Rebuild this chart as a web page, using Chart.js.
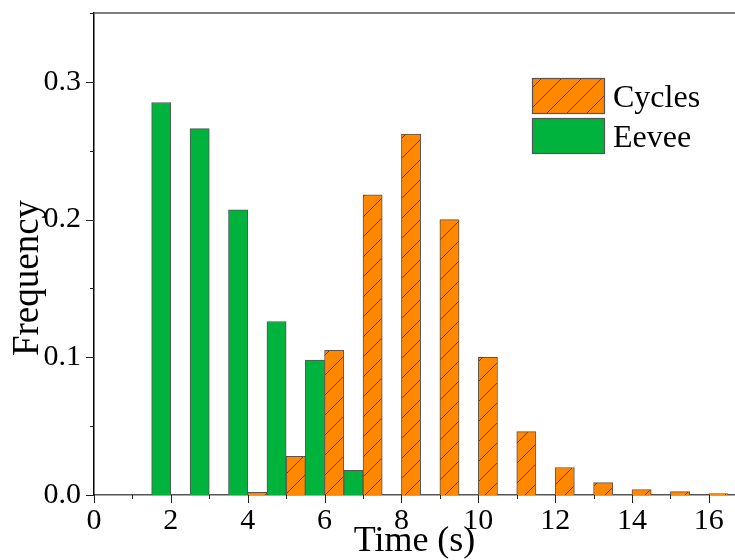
<!DOCTYPE html>
<html lang="en">
<head>
    <meta charset="UTF-8">
    <script src="https://cdn.jsdelivr.net/npm/chart.js"></script>
    <title>Time histogram</title>
    <style>
        body { margin: 0; background: #fff; }
        #wrap { width: 735px; height: 560px; }
    </style>
</head>
<body>
    <div id="wrap">
      <canvas id="myChart" width="735" height="560"></canvas>
    </div>
    <script>
        // bins (s) and frequencies
        const timeBins = [2, 3, 4, 5, 6, 7, 8, 9, 10, 11, 12, 13, 14, 15, 16]
        const eevee = [0.285, 0.266, 0.207, 0.126, 0.098, 0.018, null, null, null, null, null, null, null, null, null]
        const cycles = [null, null, 0.002, 0.028, 0.105, 0.218, 0.262, 0.200, 0.100, 0.046, 0.020, 0.009, 0.004, 0.0025, 0.001]
        const xTicks = [0, 1, 2, 3, 4, 5, 6, 7, 8, 9, 10, 11, 12, 13, 14, 15, 16]
        const xMajorTicks = [0, 2, 4, 6, 8, 10, 12, 14, 16]
        const yMajorTicks = [0.0, 0.1, 0.2, 0.3]

        const serif = "'Liberation Serif', 'Times New Roman', serif"
        const green = '#00b33c'
        const orange = '#ff8800'
        const edge = '#555555'

        function hatch(color) {
            const s = 20
            const c = document.createElement('canvas')
            c.width = s; c.height = s
            const g = c.getContext('2d')
            g.fillStyle = color
            g.fillRect(0, 0, s, s)
            g.strokeStyle = '#3c3c3c'
            g.lineWidth = 0.9
            g.beginPath()
            g.moveTo(-2, s + 2); g.lineTo(s + 2, -2)
            g.moveTo(-2, 2); g.lineTo(2, -2)
            g.moveTo(s - 2, s + 2); g.lineTo(s + 2, s - 2)
            g.stroke()
            return g.createPattern(c, 'repeat')
        }
        const orangeFill = hatch(orange)

        const toPoints = (vals) => timeBins.map((t, i) => ({ x: t, y: vals[i] }))

        // minor/major ticks, top frame line, y title and the legend
        const decor = {
            id: 'decor',
            afterDraw(chart) {
                const ctx = chart.ctx
                const xs = chart.scales.x, ys = chart.scales.y
                const area = chart.chartArea
                ctx.save()
                ctx.strokeStyle = '#222'
                ctx.lineWidth = 1
                xs.ticks.forEach(t => {
                    const px = Math.round(xs.getPixelForValue(t.value)) + 0.5
                    const len = xMajorTicks.includes(t.value) ? 8 : 4
                    ctx.beginPath(); ctx.moveTo(px, area.bottom); ctx.lineTo(px, area.bottom + len); ctx.stroke()
                })
                ys.ticks.forEach(t => {
                    const py = Math.round(ys.getPixelForValue(t.value)) + 0.5
                    const major = Math.round(t.value * 100) % 10 === 0
                    const len = major ? 8 : 4
                    ctx.beginPath(); ctx.moveTo(area.left, py); ctx.lineTo(area.left - len, py); ctx.stroke()
                })
                ctx.strokeStyle = edge
                ctx.lineWidth = 1.5
                ctx.beginPath(); ctx.moveTo(area.left, area.top); ctx.lineTo(area.right, area.top); ctx.stroke()

                // y axis title, sits a bit below the axis middle
                ctx.save()
                ctx.translate(28, 278)
                ctx.rotate(-Math.PI / 2)
                ctx.font = '37px ' + serif
                ctx.fillStyle = '#000'
                ctx.textAlign = 'center'
                ctx.textBaseline = 'middle'
                ctx.fillText('Frequency', 0, 0)
                ctx.restore()

                // legend
                const items = [chart.data.datasets[1], chart.data.datasets[0]]
                ctx.font = '32px ' + serif
                ctx.textBaseline = 'middle'
                items.forEach((ds, i) => {
                    const top = 78 + i * 40
                    ctx.fillStyle = ds.backgroundColor
                    ctx.fillRect(532, top, 72, 35)
                    ctx.strokeStyle = edge
                    ctx.lineWidth = 1.2
                    ctx.strokeRect(532.5, top + 0.5, 72, 35)
                    ctx.fillStyle = '#000'
                    ctx.fillText(ds.label, 613, top + 21)
                })
                ctx.restore()
            }
        }

        const ctx = document.getElementById('myChart')
        new Chart(ctx, {
            type: 'bar',
            data: {
                datasets: [{
                    label: 'Eevee',
                    data: toPoints(eevee),
                    backgroundColor: green,
                    borderColor: edge,
                    borderWidth: 1
                }, {
                    label: 'Cycles',
                    data: toPoints(cycles),
                    backgroundColor: orangeFill,
                    borderColor: edge,
                    borderWidth: 1
                }]
            },
            options: {
                responsive: false,
                animation: false,
                categoryPercentage: 1.0,
                barPercentage: 1.0,
                layout: { padding: { top: 13, right: 0, left: 0, bottom: 0 } },
                plugins: {
                    legend: { display: false },
                    tooltip: { enabled: false }
                },
                scales: {
                    x: {
                        type: 'linear',
                        offset: false,
                        min: 0,
                        max: 16.68,
                        grid: { display: false, drawTicks: false, offset: false },
                        border: { display: true, color: edge, width: 1.5 },
                        afterBuildTicks: (s) => { s.ticks = xTicks.map(v => ({ value: v })) },
                        afterFit: (s) => { s.height = 65; s.paddingLeft = 0; s.paddingRight = 0 },
                        ticks: {
                            padding: 8,
                            color: '#000',
                            font: { family: serif, size: 30 },
                            maxRotation: 0,
                            autoSkip: false,
                            callback: (v) => xMajorTicks.includes(v) ? String(v) : ''
                        },
                        title: {
                            display: true,
                            text: 'Time (s)',
                            color: '#000',
                            font: { family: serif, size: 36, lineHeight: 1 },
                            padding: 0
                        }
                    },
                    y: {
                        min: 0,
                        max: 0.35,
                        grid: { display: false, drawTicks: false },
                        border: { display: true, color: '#000', width: 1.5 },
                        afterFit: (s) => { s.width = 94; s.paddingTop = 0; s.paddingBottom = 0 },
                        ticks: {
                            stepSize: 0.05,
                            padding: 13,
                            color: '#000',
                            font: { family: serif, size: 30 },
                            autoSkip: false,
                            callback: (v) => {
                                const r = Math.round(v * 10) / 10
                                return (Math.abs(v - r) < 1e-6 && yMajorTicks.includes(r)) ? r.toFixed(1) : ''
                            }
                        },
                        title: { display: false }
                    }
                }
            },
            plugins: [decor]
        });
    </script>
 </body>

</html>
